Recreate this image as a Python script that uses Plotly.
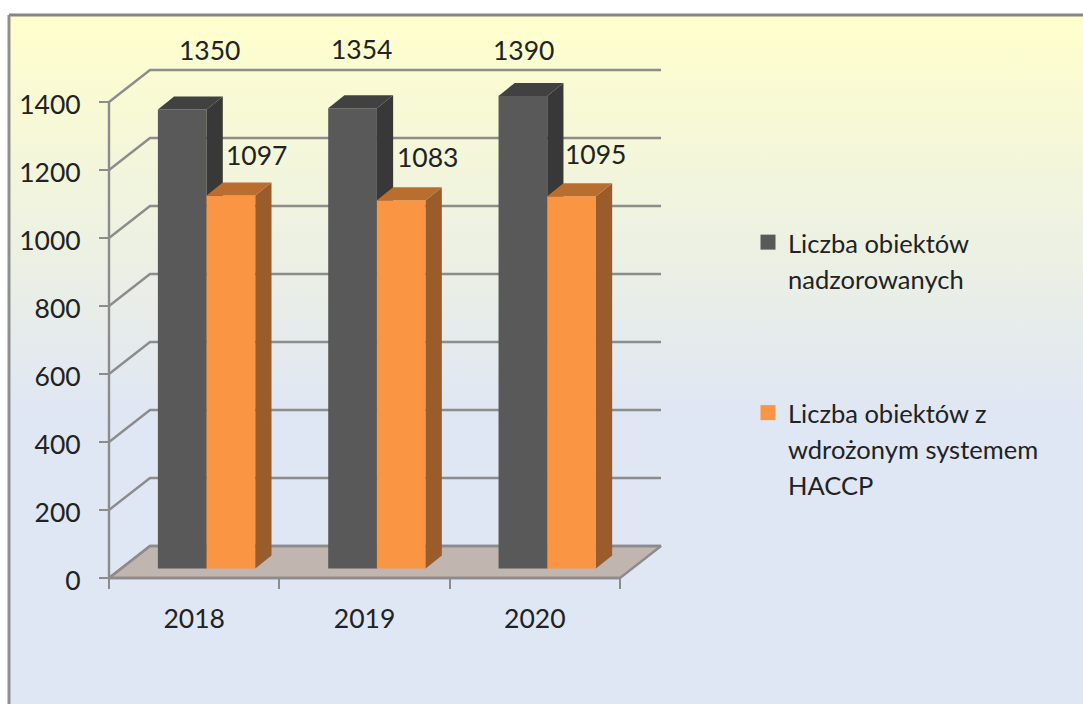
import plotly.graph_objects as go

# ---- data ----
years = ["2018", "2019", "2020"]
supervised = [1350, 1354, 1390]
haccp = [1097, 1083, 1095]
y_ticks = [0, 200, 400, 600, 800, 1000, 1200, 1400]
series_names = ["Liczba obiektów<br>nadzorowanych",
                "Liczba obiektów z<br>wdrożonym systemem<br>HACCP"]

# ---- geometry (page pixels <-> axis units) ----
W, H = 1083, 704
X0_PX, CAT_PX = 109.0, 170.33     # x=0 pixel, pixels per category
Y0_PX, UNIT_PX = 578.0, 0.34      # y=0 pixel, pixels per value unit
x_range = [-X0_PX / CAT_PX, (W - X0_PX) / CAT_PX]
y_range = [-(H - Y0_PX) / UNIT_PX, Y0_PX / UNIT_PX]

WALL_DX, WALL_DY = 41 / CAT_PX, 32 / UNIT_PX     # depth of the plot box
BAR_DX, BAR_DY = 16.2 / CAT_PX, 13 / UNIT_PX     # depth of the bars
BAR_BASE = 9.5 / UNIT_PX
BAR_W = 0.286
DARK_X, ORANGE_X = 0.43, 0.716
N = len(years)

GRID = "#8C8C8C"
GRID_W = 2.4
TEXT = "#222222"
FONT = "Lato"
FS = 26.5
LEGEND_FS = 25.5

fig = go.Figure()

# ---- background gradient (page filling) ----
bx0, bx1 = x_range[0] + 9 / CAT_PX, x_range[1]
by0, by1 = y_range[0], y_range[1] - 15 / UNIT_PX
fig.add_trace(go.Scatter(
    x=[bx0, bx1, bx1, bx0, bx0], y=[by0, by0, by1, by1, by0],
    mode="lines", line=dict(width=0), fill="toself", hoverinfo="skip", showlegend=False,
    fillgradient=dict(type="vertical",
                      colorscale=[[0, "#DFE6F4"], [0.41, "#DFE6F4"], [1, "#FFFFCC"]]),
))

# ---- floor ----
fig.add_trace(go.Scatter(
    x=[0, WALL_DX, N + WALL_DX, N, 0], y=[0, WALL_DY, WALL_DY, 0, 0],
    mode="lines", line=dict(color=GRID, width=GRID_W), fill="toself", fillcolor="#C1B5AF",
    hoverinfo="skip", showlegend=False,
))

# ---- gridlines on the side and back walls ----
for t in y_ticks:
    fig.add_trace(go.Scatter(
        x=[0, WALL_DX, N + WALL_DX], y=[t, t + WALL_DY, t + WALL_DY],
        mode="lines", line=dict(color=GRID, width=GRID_W), hoverinfo="skip", showlegend=False,
    ))

# ---- axis lines ----
fig.add_trace(go.Scatter(x=[0, 0], y=[0, y_ticks[-1]], mode="lines",
                         line=dict(color=GRID, width=GRID_W), hoverinfo="skip", showlegend=False))
fig.add_trace(go.Scatter(x=[0, N], y=[0, 0], mode="lines",
                         line=dict(color=GRID, width=GRID_W), hoverinfo="skip", showlegend=False))


def add_bars(values, offset, front, side, top, name, xa, ya):
    xs = [i + offset for i in range(N)]
    fig.add_trace(go.Bar(
        x=xs, y=values, base=[BAR_BASE] * N, width=BAR_W, name=name,
        marker=dict(color=front, line=dict(width=0)),
        xaxis=xa, yaxis=ya, showlegend=False,
    ))
    for xc, v in zip(xs, values):
        l, r = xc - BAR_W / 2, xc + BAR_W / 2
        t, b = BAR_BASE + v, BAR_BASE
        fig.add_trace(go.Scatter(
            x=[r, r + BAR_DX, r + BAR_DX, r, r],
            y=[b, b + BAR_DY, t + BAR_DY, t, b],
            mode="lines", line=dict(width=0), fill="toself", fillcolor=side,
            xaxis=xa, yaxis=ya, hoverinfo="skip", showlegend=False,
        ))
        fig.add_trace(go.Scatter(
            x=[l, l + BAR_DX, r + BAR_DX, r, l],
            y=[t, t + BAR_DY, t + BAR_DY, t, t],
            mode="lines", line=dict(width=0), fill="toself", fillcolor=top,
            xaxis=xa, yaxis=ya, hoverinfo="skip", showlegend=False,
        ))


add_bars(supervised, DARK_X, "#595959", "#383838", "#414141", series_names[0], "x2", "y2")
add_bars(haccp, ORANGE_X, "#FA9544", "#9A5C2A", "#B96E30", series_names[1], "x3", "y3")


# ---- legend entries ----
# Plotly centres the swatch on a multi-line entry; leading blank lines put it on the first line.
def legend_label(name):
    lines = name.split("<br>")
    blanks = ["&nbsp;"] * (len(lines) - 1)
    span = "<span style='font-size:%spx'>%%s</span>" % LEGEND_FS
    return "<br>".join(blanks + [span % ln for ln in lines])


for name, color in zip(series_names, ["#595959", "#FA9544"]):
    fig.add_trace(go.Scatter(
        x=[None], y=[None], mode="markers", name=legend_label(name), legendgroup=name,
        marker=dict(symbol="square", size=15, color=color),
        xaxis="x3", yaxis="y3",
    ))

# ---- data labels ----
sup_shift = [(27, 60), (9, 59), (1, 46)]
hac_shift = [(26, 41), (26.5, 43), (24, 42)]
ann = []
for vals, off, shifts in ((supervised, DARK_X, sup_shift), (haccp, ORANGE_X, hac_shift)):
    for i, (v, s) in enumerate(zip(vals, shifts)):
        ann.append(dict(x=i + off, y=BAR_BASE + v, xref="x", yref="y", text=str(v),
                        showarrow=False, xshift=s[0], yshift=s[1],
                        xanchor="center", yanchor="middle",
                        font=dict(family=FONT, size=FS, color=TEXT)))

# ---- frame ----
GX = 9 / W
GY = 1 - 15 / H
shapes = [
    dict(type="line", xref="paper", yref="paper", x0=GX, x1=1, y0=GY, y1=GY,
         line=dict(color="#858585", width=3), layer="above"),
    dict(type="line", xref="paper", yref="paper", x0=GX, x1=GX, y0=0, y1=GY,
         line=dict(color="#8F8F8F", width=3), layer="above"),
]

hidden_x = dict(range=x_range, overlaying="x", visible=False, domain=[0, 1], fixedrange=True)
hidden_y = dict(range=y_range, overlaying="y", visible=False, domain=[0, 1], fixedrange=True)

fig.update_layout(
    width=W, height=H, margin=dict(l=0, r=0, t=0, b=0),
    paper_bgcolor="white", plot_bgcolor="rgba(0,0,0,0)",
    barmode="overlay", annotations=ann, shapes=shapes,
    font=dict(family=FONT, size=FS, color=TEXT),
    xaxis=dict(
        range=x_range, domain=[0, 1], anchor="free", position=(H - Y0_PX) / H,
        showgrid=False, zeroline=False, showline=False, fixedrange=True,
        tickmode="array", tickvals=[i + 0.5 for i in range(N)], ticktext=years,
        ticks="", ticklabelstandoff=22,
        tickfont=dict(family=FONT, size=FS, color=TEXT),
        minor=dict(tickmode="array", tickvals=list(range(N + 1)), ticks="outside",
                   ticklen=10, tickwidth=2, tickcolor=GRID, showgrid=False),
    ),
    yaxis=dict(
        range=y_range, domain=[0, 1], anchor="free", position=X0_PX / W,
        showgrid=False, zeroline=False, showline=False, fixedrange=True,
        tickmode="array", tickvals=y_ticks, ticks="outside", ticklen=10,
        tickwidth=2, tickcolor=GRID, ticklabelstandoff=13, ticklabelshift=3,
        tickfont=dict(family=FONT, size=FS, color=TEXT),
    ),
    xaxis2=hidden_x, yaxis2=hidden_y, xaxis3=hidden_x, yaxis3=hidden_y,
    legend=dict(
        x=748 / W, y=1 - 182 / H, xanchor="left", yanchor="top",
        bgcolor="rgba(0,0,0,0)", borderwidth=0, tracegroupgap=24.5,
        font=dict(family=FONT, size=27.5, color=TEXT), itemwidth=30,
    ),
)

fig.write_html("out.html", config={"displayModeBar": False},
               post_script="document.body.style.margin='0';document.body.style.overflow='hidden';")
